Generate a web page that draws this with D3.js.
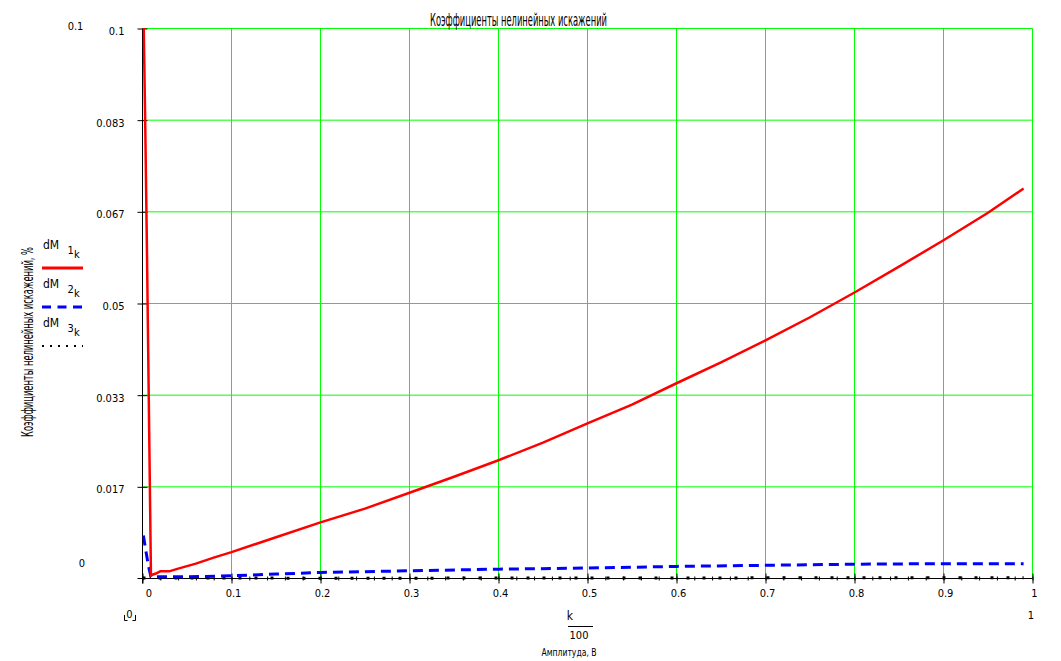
<!DOCTYPE html>
<html>
<head>
<meta charset="utf-8">
<script src="https://cdn.jsdelivr.net/npm/d3@7/dist/d3.min.js"></script>
<style>
  body { margin: 0; background: #fff; }
  svg { display: block; }
  text { font-family: "Liberation Sans Narrow", "Arial Narrow", "DejaVu Sans Condensed", sans-serif; fill: #000; }
</style>
</head>
<body>
<svg width="1061" height="661"></svg>
<script>
// dM1 - red solid
var redX = [0.0012, 0.003, 0.005, 0.0075, 0.0095, 0.015, 0.02, 0.03, 0.04, 0.06, 0.08, 0.1, 0.15, 0.2, 0.25,
            0.3, 0.35, 0.4, 0.45, 0.5, 0.55, 0.6, 0.65, 0.7, 0.75, 0.8, 0.85, 0.9, 0.95, 0.99];
var redY = [0.102, 0.0833, 0.0596, 0.027, 0.0006, 0.0009, 0.0013, 0.0013, 0.0018, 0.0027, 0.0038, 0.0048, 0.0075, 0.0102, 0.0127,
            0.0156, 0.0185, 0.0215, 0.0247, 0.0282, 0.0316, 0.0355, 0.0393, 0.0433, 0.0475, 0.052, 0.0567, 0.0615, 0.0665, 0.0709];
// dM2 - blue dashed
var blueX = [0.001, 0.004, 0.0068, 0.0095, 0.05, 0.1, 0.15, 0.2, 0.3, 0.4, 0.5, 0.6, 0.7, 0.8, 0.9, 0.99];
var blueY = [0.0078, 0.0048, 0.0022, 0.0003, 0.0003, 0.0005, 0.0008, 0.0011, 0.0014, 0.0017, 0.0019, 0.0022, 0.0024, 0.0026, 0.0027, 0.0027];
// dM3 - black dotted
var blackX = [0, 0.25, 0.5, 0.75, 0.99];
var blackY = [0.0001, 0.00005, 0.0001, 0.00012, 0.00015];

var xTicks = [0, 0.1, 0.2, 0.3, 0.4, 0.5, 0.6, 0.7, 0.8, 0.9, 1];
var xTickLabels = ["0", "0.1", "0.2", "0.3", "0.4", "0.5", "0.6", "0.7", "0.8", "0.9", "1"];
var yTicks = [1/60, 2/60, 3/60, 4/60, 5/60, 6/60];
var yTickLabels = ["0.017", "0.033", "0.05", "0.067", "0.083", "0.1"];

var svg = d3.select("svg");

var x = d3.scaleLinear().domain([0, 1]).range([142.5, 1032.5]);
var y = d3.scaleLinear().domain([0, 0.1]).range([578.5, 28.5]);

// grid
svg.append("g").selectAll("line").data(xTicks.slice(1)).enter().append("line")
    .attr("x1", function(d) { return x(d); }).attr("x2", function(d) { return x(d); })
    .attr("y1", y(0)).attr("y2", y(0.1))
    .attr("stroke", "#00ff00");
svg.append("g").selectAll("line").data(yTicks).enter().append("line")
    .attr("x1", x(0)).attr("x2", x(1))
    .attr("y1", function(d) { return y(d); }).attr("y2", function(d) { return y(d); })
    .attr("stroke", "#00ff00");

// axes
var gy = svg.append("g")
    .attr("transform", "translate(" + x(0) + ",0)")
    .call(d3.axisLeft(y).tickValues(yTicks).tickSize(5).tickPadding(13)
        .tickFormat(function(d, i) { return yTickLabels[i]; }));
gy.select(".domain").remove();
gy.selectAll(".tick line").attr("x1", -5).attr("x2", 5);
gy.selectAll(".tick text").attr("dy", "0.55em").style("font-size", "11px").style("font-family", null);
svg.append("line").attr("x1", x(0)).attr("x2", x(0)).attr("y1", y(0.1)).attr("y2", y(0) + 5).attr("stroke", "#000");

var gxm = svg.append("g")
    .attr("transform", "translate(0," + y(0) + ")")
    .call(d3.axisBottom(x).ticks(50).tickSize(2).tickFormat(""));
gxm.select(".domain").remove();
gxm.selectAll(".tick line").attr("y1", -2).attr("y2", 2);

var gx = svg.append("g")
    .attr("transform", "translate(0," + y(0) + ")")
    .call(d3.axisBottom(x).tickValues(xTicks).tickSize(5).tickPadding(6)
        .tickFormat(function(d, i) { return xTickLabels[i]; }));
gx.select(".domain").remove();
gx.selectAll(".tick line").attr("y1", -5).attr("y2", 5);
gx.selectAll(".tick text").attr("dx", function(d) { return d === 0 ? 6 : 1.5; })
    .style("font-size", "11px").style("font-family", null);
svg.append("line").attr("x1", x(0) - 5).attr("x2", x(1)).attr("y1", y(0)).attr("y2", y(0)).attr("stroke", "#000");

// lines
svg.append("clipPath").attr("id", "plot").append("rect")
    .attr("x", x(0)).attr("y", y(0.1) - 0.5).attr("width", x(1) - x(0) + 2).attr("height", y(0) - y(0.1) + 2);

var line = d3.line()
    .x(function(d) { return x(d[0]); })
    .y(function(d) { return y(d[1]); });

var plot = svg.append("g").attr("clip-path", "url(#plot)");
plot.append("path").datum(d3.zip(blackX, blackY)).attr("d", line)
    .attr("fill", "none").attr("stroke", "#000").attr("stroke-width", 3).attr("stroke-dasharray", "3,13");
plot.append("path").datum(d3.zip(blueX, blueY)).attr("d", line)
    .attr("fill", "none").attr("stroke", "#0000ff").attr("stroke-width", 3).attr("stroke-dasharray", "10,6");
plot.append("path").datum(d3.zip(redX, redY)).attr("d", line)
    .attr("fill", "none").attr("stroke", "#ff0000").attr("stroke-width", 2.5);

// title and labels
svg.append("text").attr("x", 430).attr("y", 26).attr("textLength", 177).attr("lengthAdjust", "spacingAndGlyphs")
    .style("font-size", "17px").text("Коэффициенты нелинейных искажений");

svg.append("text").attr("transform", "translate(33,342) rotate(-90)").attr("text-anchor", "middle")
    .attr("textLength", 190).attr("lengthAdjust", "spacingAndGlyphs")
    .style("font-size", "15px").text("Коэффициенты нелинейных искажений, %");

svg.append("text").attr("x", 570).attr("y", 620).attr("text-anchor", "middle").style("font-size", "12px").text("k");
svg.append("line").attr("x1", 568).attr("x2", 593).attr("y1", 626.5).attr("y2", 626.5).attr("stroke", "#000");
svg.append("text").attr("x", 579).attr("y", 639).attr("text-anchor", "middle").style("font-size", "11px").text("100");
svg.append("text").attr("x", 569).attr("y", 656).attr("text-anchor", "middle")
    .attr("textLength", 55).attr("lengthAdjust", "spacingAndGlyphs")
    .style("font-size", "11px").text("Амплитуда, В");

// axis limits
svg.append("text").attr("x", 75.5).attr("y", 30).attr("text-anchor", "middle").style("font-size", "11px").text("0.1");
svg.append("text").attr("x", 82).attr("y", 567).attr("text-anchor", "middle").style("font-size", "11px").text("0");
svg.append("text").attr("x", 129.5).attr("y", 618).attr("text-anchor", "middle").style("font-size", "11px").text("0");
svg.append("path").attr("d", "M124.5,615V620.5H127.5M135.5,615V620.5H132.5").attr("fill", "none").attr("stroke", "#000");
svg.append("text").attr("x", 1031).attr("y", 619).attr("text-anchor", "middle").style("font-size", "11px").text("1");

// legend
var legNames = ["1", "2", "3"];
var legColors = ["#ff0000", "#0000ff", "#000"];
var legDash = [null, "9,6.5", "2,6"];
var legWidth = [3, 3, 2];
var leg = svg.append("g").selectAll("g").data(legNames).enter().append("g")
    .attr("transform", function(d, i) { return "translate(0," + (i * 39) + ")"; });
leg.append("text").attr("x", 43).attr("y", 249).style("font-size", "12px").text("dM");
leg.append("text").attr("x", 67.5).attr("y", 254).style("font-size", "11px").text(function(d) { return d; });
leg.append("text").attr("x", 74).attr("y", 258).style("font-size", "11px").text("k");
leg.append("line").attr("x1", 42).attr("x2", 83).attr("y1", 268).attr("y2", 268)
    .attr("stroke", function(d, i) { return legColors[i]; })
    .attr("stroke-width", function(d, i) { return legWidth[i]; })
    .attr("stroke-dasharray", function(d, i) { return legDash[i]; });
</script>
</body>
</html>
